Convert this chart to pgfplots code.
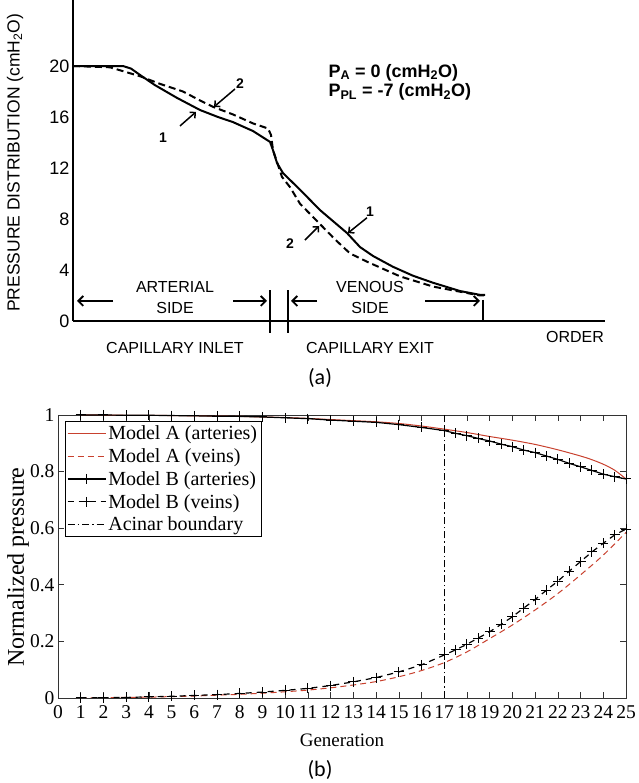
\documentclass[border=0pt]{standalone}
\usepackage{fontspec}
\setmainfont{Liberation Serif}
\newfontfamily\arialfont{Liberation Sans}
\newfontfamily\calfont{Carlito}
\usepackage{pgfplots}
\pgfplotsset{compat=1.18}
\usetikzlibrary{arrows.meta}
\definecolor{matred}{HTML}{C8412E}
\newcommand{\fs}[1]{\fontsize{#1}{#1}\selectfont}

\begin{document}
\begin{tikzpicture}
\useasboundingbox (0,0) rectangle (638pt,783pt);

% ---------- panel (a): x in pixel offsets along the order axis
\begin{axis}[
  at={(73pt,462pt)}, anchor=south west,
  scale only axis, width=532pt, height=321pt,
  xmin=0, xmax=532, ymin=0, ymax=25.18,
  axis x line=bottom, axis y line=left,
  axis line style={-, line width=2.4pt},
  xtick=\empty, ytick={0,4,8,12,16,20},
  major tick length=0pt,
  yticklabel style={font=\arialfont\fs{18}},
  /pgf/number format/assume math mode=true,
  clip=false,
]
% curve 1 (solid)
\addplot[black, line width=2pt] coordinates {
  (0,20) (50,20) (58,19.8) (67,19.3) (82,18.5) (104,17.5) (127,16.55)
  (145,16.0) (160,15.6) (180,14.9) (197,14.05) (200,13.4) (204,12.4)
  (210,11.6) (227,10.3) (247,8.7) (262,7.7) (274,6.9) (287,5.8) (300,5.1)
  (320,4.25) (340,3.55) (360,3.0) (387,2.35) (407,2.05) (412,2.05)
};
% curve 2 (dashed)
\addplot[black, line width=2pt, dash pattern=on 7pt off 4pt] coordinates {
  (0,20) (37,19.9) (67,19.2) (87,18.6) (110,18.0) (127,17.3) (140,16.8)
  (160,16.2) (180,15.5) (195,15.1) (198,14.6) (200,13.4) (209,11.3)
  (217,10.5) (227,9.2) (247,7.6) (262,6.4) (277,5.3) (294,4.65)
  (327,3.5) (360,2.7) (407,2.0) (412,2.0)
};

% side arrows and separators
\draw[line width=1.8pt, -{Straight Barb[length=5pt,width=10pt]}] (axis cs:40,1.57) -- (axis cs:4,1.57);
\draw[line width=1.8pt, -{Straight Barb[length=5pt,width=10pt]}] (axis cs:160,1.57) -- (axis cs:194,1.57);
\draw[line width=1.8pt, -{Straight Barb[length=5pt,width=10pt]}] (axis cs:244,1.57) -- (axis cs:218,1.57);
\draw[line width=1.8pt, -{Straight Barb[length=5pt,width=10pt]}] (axis cs:352,1.57) -- (axis cs:407,1.57);
\draw[line width=2.2pt] (axis cs:197,2.43) -- (axis cs:197,-0.94);
\draw[line width=2.2pt] (axis cs:215,2.43) -- (axis cs:215,-0.94);
\draw[line width=2.2pt] (axis cs:410,1.65) -- (axis cs:410,0);

\node[font=\arialfont\fs{16}] at (axis cs:102,2.67) {ARTERIAL};
\node[font=\arialfont\fs{16}] at (axis cs:102,1.02) {SIDE};
\node[font=\arialfont\fs{16}] at (axis cs:297,2.67) {VENOUS};
\node[font=\arialfont\fs{16}] at (axis cs:297,1.02) {SIDE};
\node[font=\arialfont\fs{16}] at (axis cs:102,-2.1) {CAPILLARY INLET};
\node[font=\arialfont\fs{16}] at (axis cs:297,-2.1) {CAPILLARY EXIT};
\node[font=\arialfont\fs{16}] at (axis cs:502,-1.25) {ORDER};

% curve labels
\node[font=\arialfont\bfseries\fs{14}] at (axis cs:167,18.6) {2};
\draw[line width=1.5pt, -{Straight Barb[length=4pt,width=8pt]}] (axis cs:162,18.2) -- (axis cs:141,16.8);
\node[font=\arialfont\bfseries\fs{14}] at (axis cs:90,14.4) {1};
\draw[line width=1.5pt, -{Straight Barb[length=4pt,width=8pt]}] (axis cs:107,15.3) -- (axis cs:123,16.4);
\node[font=\arialfont\bfseries\fs{14}] at (axis cs:217,6.1) {2};
\draw[line width=1.5pt, -{Straight Barb[length=4pt,width=8pt]}] (axis cs:232,6.35) -- (axis cs:246,7.45);
\node[font=\arialfont\bfseries\fs{14}] at (axis cs:297,8.55) {1};
\draw[line width=1.5pt, -{Straight Barb[length=4pt,width=8pt]}] (axis cs:294,8.1) -- (axis cs:275,6.9);

\node[rotate=90, font=\arialfont\fs{17.5}] at (axis cs:-58,12.4) {PRESSURE DISTRIBUTION (cmH\textsubscript{2}O)};
\node[anchor=west, font=\arialfont\bfseries\fs{18}] at (axis cs:252,19.5) {P\textsubscript{A} = 0 (cmH\textsubscript{2}O)};
\node[anchor=west, font=\arialfont\bfseries\fs{18}] at (axis cs:252,17.96) {P\textsubscript{PL} = -7 (cmH\textsubscript{2}O)};
\end{axis}

% ---------- panel (b)
\begin{axis}[
  at={(58pt,85pt)}, anchor=south west,
  scale only axis, width=568pt, height=283pt,
  xmin=0, xmax=25, ymin=0, ymax=1,
  xtick={0,1,...,25}, ytick={0,0.2,0.4,0.6,0.8,1},
  tick align=inside, major tick length=6pt,
  axis line style={line width=0.6pt, black!80},
  tick style={line width=0.6pt, black!80},
  ticklabel style={font=\fs{19.5}},
  xticklabel style={inner xsep=0pt, yshift=-4pt},
  /pgf/number format/assume math mode=true,
  xlabel={Generation}, ylabel={Normalized pressure},
  xlabel style={font=\fs{19}, at={(axis description cs:0.5,0)}, anchor=center, yshift=-42pt},
  ylabel style={font=\fs{24}, at={(axis description cs:-0.0704,0.463)}, anchor=center},
  legend style={at={(0.012,0.978)}, anchor=north west, draw=black,
    line width=0.6pt, font=\fs{20}, inner xsep=2pt, inner ysep=2pt,
    row sep=3.5pt, cells={anchor=west}},
  legend image code/.code={\draw[mark repeat=2,mark phase=2,#1]
    plot coordinates {(0pt,0pt) (19pt,0pt) (38pt,0pt)};},
]
\addplot[matred, line width=1pt, smooth] coordinates {
  (1,1.0) (2,1.0) (3,0.999) (4,0.999) (5,0.998) (6,0.997) (7,0.996)
  (8,0.995) (9,0.993) (10,0.991) (11,0.988) (12,0.984) (13,0.980)
  (14,0.976) (15,0.970) (16,0.961) (17,0.950) (18,0.938) (19,0.924)
  (20,0.911) (21,0.896) (22,0.877) (23,0.855) (23.5,0.842) (24,0.826)
  (24.5,0.805) (25,0.774)
};
\addlegendentry{Model A (arteries)}
\addplot[matred, line width=1pt, dash pattern=on 6pt off 4pt, smooth] coordinates {
  (1,0) (2,0.001) (3,0.002) (4,0.003) (5,0.005) (6,0.007) (7,0.010)
  (8,0.013) (9,0.017) (10,0.022) (11,0.028) (12,0.036) (13,0.046)
  (14,0.058) (15,0.075) (16,0.097) (17,0.125) (18,0.163) (19,0.210)
  (20,0.258) (21,0.311) (22,0.369) (23,0.435) (24,0.505) (25,0.585)
};
\addlegendentry{Model A (veins)}
\addplot[black, line width=1.2pt, mark=+, mark size=5pt, mark options={solid, line width=1pt}] coordinates {
  (1,1.0) (2,1.0) (3,0.999) (4,0.999) (5,0.998) (6,0.997) (7,0.996)
  (8,0.995) (9,0.993) (10,0.990) (11,0.987) (12,0.982) (13,0.978)
  (14,0.974) (15,0.966) (16,0.956) (17,0.945) (17.5,0.935) (18,0.927)
  (18.5,0.917) (19,0.908) (19.5,0.897) (20,0.888) (20.5,0.876) (21,0.867)
  (21.5,0.855) (22,0.843) (22.5,0.829) (23,0.817) (23.5,0.804) (24,0.791)
  (24.5,0.782) (25,0.774)
};
\addlegendentry{Model B (arteries)}
\addplot[black, line width=1.2pt, dash pattern=on 6pt off 5pt, mark=+, mark size=5pt, mark options={solid, line width=1pt}] coordinates {
  (1,0) (2,0.001) (3,0.002) (4,0.004) (5,0.006) (6,0.009) (7,0.012)
  (8,0.016) (9,0.021) (10,0.027) (11,0.034) (12,0.044) (13,0.057)
  (14,0.072) (15,0.092) (16,0.117) (17,0.152) (17.5,0.170) (18,0.190)
  (18.5,0.212) (19,0.234) (19.5,0.260) (20,0.287) (20.5,0.318) (21,0.348)
  (21.5,0.381) (22,0.413) (22.5,0.448) (23,0.482) (23.5,0.516) (24,0.547)
  (24.5,0.576) (25,0.597)
};
\addlegendentry{Model B (veins)}
\addplot[black, line width=1pt, dash pattern=on 7pt off 3pt on 1.5pt off 3pt] coordinates {(17,0) (17,1)};
\addlegendentry{Acinar boundary}
\end{axis}

\node[font=\calfont\fs{22}] at (320pt,405pt) {(a)};
\node[font=\calfont\fs{22}] at (320pt,13pt) {(b)};
\end{tikzpicture}
\end{document}
